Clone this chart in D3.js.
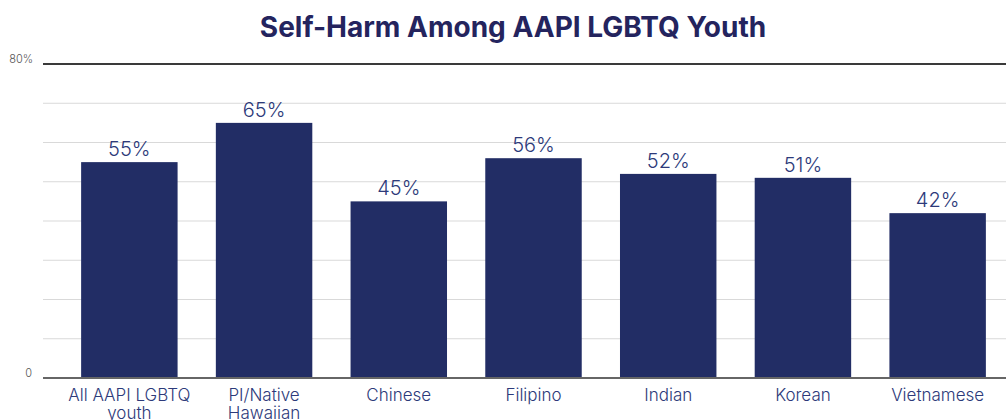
<!DOCTYPE html>
<html>
<head>
<meta charset="utf-8">
<script src="https://cdn.jsdelivr.net/npm/d3@7"></script>
<style>
  body { margin: 0; background: #fff; }
  svg { display: block; font-family: Inter, 'Open Sans', sans-serif; }
</style>
</head>
<body>
<div id="chart"></div>
<script>
var width = 1006, height = 420

// data
var categories = [['All AAPI LGBTQ', 'youth'], ['PI/Native', 'Hawaiian'], ['Chinese'], ['Filipino'], ['Indian'], ['Korean'], ['Vietnamese']]
var values = [55, 65, 45, 56, 52, 51, 42]
var gridTicks = [0, 10, 20, 30, 40, 50, 60, 70, 80]

var svg = d3.select('#chart')
  .append('svg')
    .attr('width', width)
    .attr('height', height)

var x = d3.scaleBand()
  .domain(d3.range(values.length))
  .range([62, 1005])
  .paddingInner(0.284)
  .paddingOuter(0.142)

var y = d3.scaleLinear().domain([0, 80]).range([378, 64])

// title
svg.append('text')
  .attr('x', 513)
  .attr('y', 37)
  .attr('text-anchor', 'middle')
  .attr('fill', '#24245e')
  .style('font', 'bold 28px Inter, sans-serif')
  .text('Self-Harm Among AAPI LGBTQ Youth')

// gridlines
svg.append('g').selectAll('line')
  .data(gridTicks.slice(1, -1))
  .enter().append('line')
    .attr('x1', 43).attr('x2', width)
    .attr('y1', function(d) { return y(d) })
    .attr('y2', function(d) { return y(d) })
    .attr('stroke', '#d9d9d9')
    .attr('stroke-width', 1)

// top and bottom lines
svg.append('line')
  .attr('x1', 43).attr('x2', width)
  .attr('y1', y(80)).attr('y2', y(80))
  .attr('stroke', '#3a3a3a').attr('stroke-width', 2)
svg.append('line')
  .attr('x1', 43).attr('x2', width)
  .attr('y1', y(0)).attr('y2', y(0))
  .attr('stroke', '#666').attr('stroke-width', 2)

// y labels
svg.append('text').attr('x', 33).attr('y', y(80) - 1).attr('text-anchor', 'end')
  .attr('fill', '#555').style('font', '300 11px Inter, sans-serif').text('80%')
svg.append('text').attr('x', 32).attr('y', y(0) - 1).attr('text-anchor', 'end')
  .attr('fill', '#555').style('font', '300 11px Inter, sans-serif').text('0')

// bars
svg.append('g').selectAll('rect')
  .data(values)
  .enter().append('rect')
    .attr('x', function(d, i) { return x(i) })
    .attr('y', function(d) { return y(d) })
    .attr('width', x.bandwidth())
    .attr('height', function(d) { return y(0) - y(d) - 1 })
    .attr('fill', '#222d65')

// value labels
svg.append('g').selectAll('text')
  .data(values)
  .enter().append('text')
    .attr('x', function(d, i) { return x(i) + x.bandwidth() / 2 })
    .attr('y', function(d) { return y(d) - 6 })
    .attr('text-anchor', 'middle')
    .attr('fill', '#2d3a7a')
    .style('font', '300 20px Inter, sans-serif')
    .text(function(d) { return d + '%' })

// category labels
var cat = svg.append('g').selectAll('text')
  .data(categories)
  .enter().append('text')
    .attr('text-anchor', 'middle')
    .attr('fill', '#2d3a7a')
    .style('font', '300 17px Inter, sans-serif')
    .attr('transform', function(d, i) { return 'translate(' + (x(i) + x.bandwidth() / 2) + ',401)' })
cat.selectAll('tspan')
  .data(function(d) { return d })
  .enter().append('tspan')
    .attr('x', 0)
    .attr('dy', function(d, i) { return i ? 18 : 0 })
    .text(function(d) { return d })
</script>
</body>
</html>
